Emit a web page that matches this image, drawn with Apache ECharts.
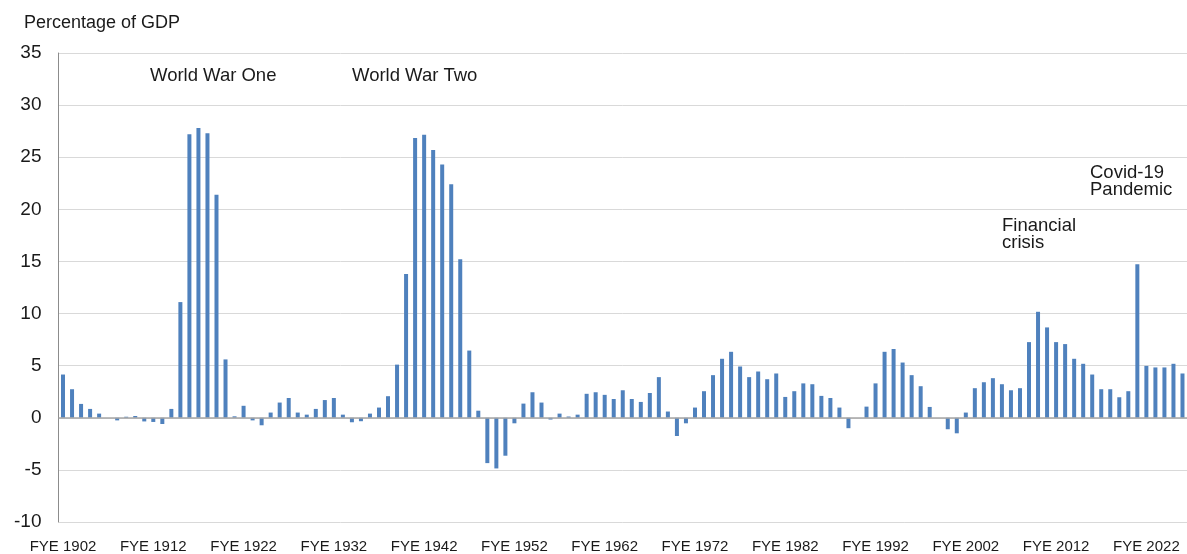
<!DOCTYPE html>
<html>
<head>
<meta charset="utf-8">
<script src="https://cdn.jsdelivr.net/npm/echarts@6/dist/echarts.min.js"></script>
<style>
  html, body { margin: 0; padding: 0; background: #fff; }
  #main { width: 1187px; height: 554px; }
</style>
</head>
<body>
<div id="main"></div>
<script>
// financial years 1902..2026, one bar per year
const firstYear = 1902;
const lastYear = 2026;
const years = [];
for (let y = firstYear; y <= lastYear; y++) years.push('FYE ' + y);

// percentage of GDP
const borrowing = [
  4.15, 2.74, 1.33, 0.85, 0.4, 0, -0.25, 0.1, 0.17, -0.35,        // 1902-1911
  -0.4, -0.6, 0.85, 11.1, 27.2, 27.8, 27.3, 21.4, 5.6, 0.14,      // 1912-1921
  1.15, -0.25, -0.72, 0.5, 1.46, 1.9, 0.5, 0.3, 0.85, 1.7,        // 1922-1931
  1.9, 0.3, -0.43, -0.33, 0.4, 0.98, 2.07, 5.1, 13.8, 26.85,      // 1932-1941
  27.16, 25.7, 24.3, 22.4, 15.2, 6.45, 0.68, -4.35, -4.86, -3.64, // 1942-1951
  -0.53, 1.36, 2.45, 1.46, -0.17, 0.4, 0.12, 0.3, 2.3, 2.45,      // 1952-1961
  2.2, 1.8, 2.64, 1.8, 1.52, 2.38, 3.9, 0.6, -1.75, -0.53,        // 1962-1971
  0.98, 2.55, 4.09, 5.66, 6.33, 4.92, 3.9, 4.44, 3.7, 4.25,       // 1972-1981
  2.0, 2.55, 3.3, 3.22, 2.1, 1.9, 0.98, -1.0, 0, 1.07,            // 1982-1991
  3.3, 6.33, 6.6, 5.3, 4.09, 3.03, 1.04, 0, -1.1, -1.49,          // 1992-2001
  0.5, 2.84, 3.41, 3.8, 3.22, 2.64, 2.84, 7.26, 10.17, 8.67,      // 2002-2011
  7.26, 7.07, 5.66, 5.18, 4.15, 2.74, 2.74, 1.97, 2.55, 14.73,    // 2012-2021
  4.98, 4.83, 4.83, 5.18, 4.25                                    // 2022-2026
];

const notes = [
  { text: 'World War One', left: 150, top: 66 },
  { text: 'World War Two', left: 352, top: 66 },
  { text: 'Financial\ncrisis', left: 1002, top: 216 },
  { text: 'Covid-19\nPandemic', left: 1090, top: 163 }
];

const FONT = 'Liberation Sans, Arial, sans-serif';
const INK = '#1a1a1a';

var myChart = echarts.init(document.getElementById('main'));
var option = {
  animation: false,
  backgroundColor: '#fff',
  grid: { left: 58.5, right: -3.3, top: 53, bottom: 32, containLabel: false },
  graphic: [
    {
      type: 'text', left: 24, top: 14,
      style: { text: 'Percentage of GDP', fontSize: 18, fontFamily: FONT, fill: INK }
    }
  ].concat(notes.map(n => ({
    type: 'text', left: n.left, top: n.top,
    style: { text: n.text, fontSize: 18.5, lineHeight: 17, fontFamily: FONT, fill: INK }
  }))),
  xAxis: {
    type: 'category',
    data: years,
    boundaryGap: true,
    axisLine: { show: false, onZero: false },
    axisTick: { show: false },
    axisLabel: {
      interval: 9, margin: 17, color: INK,
      fontSize: 15, fontFamily: FONT
    },
    splitLine: { show: false }
  },
  yAxis: {
    type: 'value',
    min: -10, max: 35, interval: 5,
    axisLine: { show: true, lineStyle: { color: '#8c8c8c', width: 1 } },
    axisTick: { show: false },
    axisLabel: { margin: 17, color: INK, fontSize: 19, fontFamily: FONT },
    splitLine: { show: true, lineStyle: { color: '#d9d9d9', width: 1 } }
  },
  series: [{
    type: 'bar',
    data: borrowing,
    barWidth: 4,
    itemStyle: { color: '#4f81bd' },
    markLine: {
      silent: true,
      symbol: 'none',
      label: { show: false },
      lineStyle: { color: '#a6a6a6', width: 1.5, type: 'solid' },
      data: [{ yAxis: 0 }]
    }
  }]
};

myChart.setOption(option);
</script>
</body>
</html>
